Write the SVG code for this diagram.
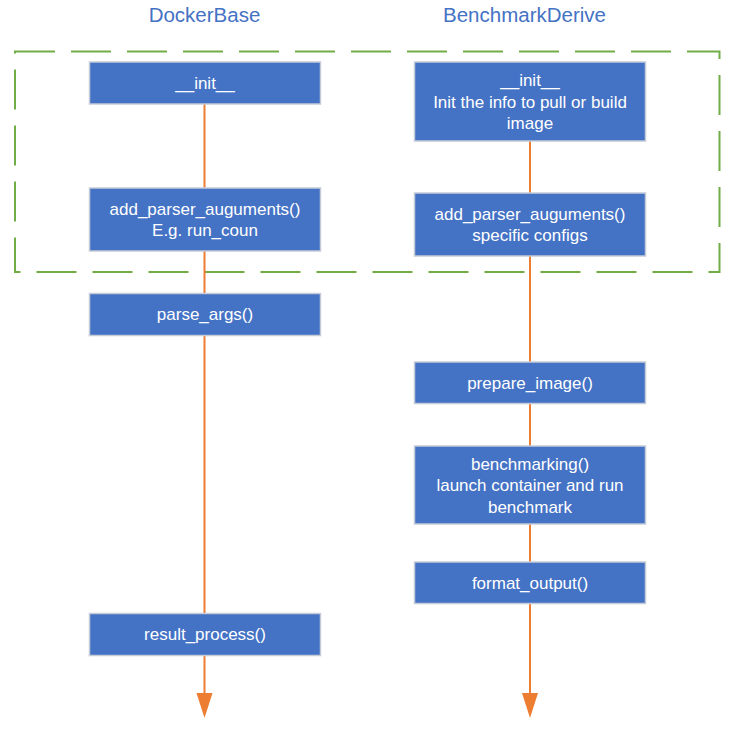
<svg xmlns="http://www.w3.org/2000/svg" width="734" height="729" viewBox="0 0 734 729">
<defs>
<style>
.title{font-family:"Liberation Sans",Arial,sans-serif;font-size:20.5px;fill:#4472C4;text-anchor:middle}
.box rect{fill:#4472C4;stroke:#C5CCD8;stroke-width:1.5}
.box text{font-family:"Liberation Sans",Arial,sans-serif;font-size:17px;fill:#FFFFFF;text-anchor:middle}
.conn line{stroke:#ED7D31;stroke-width:2}
.conn polygon{fill:#ED7D31}
.frame{fill:none;stroke:#70AD47;stroke-width:2;stroke-dasharray:40 16}
</style>
</defs>
<rect width="734" height="729" fill="#FFFFFF"/>
<text class="title" x="204.5" y="22">DockerBase</text>
<text class="title" x="524.5" y="22">BenchmarkDerive</text>
<rect id="frame" class="frame" x="15" y="51.5" width="704.5" height="220.5"/>
<g id="connectors" class="conn">
<line x1="204.5" y1="104" x2="204.5" y2="188"/>
<line x1="204.5" y1="251" x2="204.5" y2="293"/>
<line x1="204.5" y1="335" x2="204.5" y2="613"/>
<line x1="204.5" y1="655" x2="204.5" y2="696"/>
<polygon points="196.5,693 212.5,693 204.5,718"/>
<line x1="530" y1="141" x2="530" y2="193"/>
<line x1="530" y1="256" x2="530" y2="362"/>
<line x1="530" y1="403" x2="530" y2="446"/>
<line x1="530" y1="524" x2="530" y2="562"/>
<line x1="530" y1="603" x2="530" y2="696"/>
<polygon points="522,693 538,693 530,718"/>
</g>
<g id="db_init" class="box">
<rect x="89.5" y="62" width="231" height="42"/>
<text x="205" y="89">__init__</text>
</g>
<g id="db_add_parser" class="box">
<rect x="89.5" y="188" width="231" height="63"/>
<text x="205" y="214.5">add_parser_auguments()</text>
<text x="205" y="236">E.g. run_coun</text>
</g>
<g id="db_parse_args" class="box">
<rect x="89.5" y="293.5" width="231" height="42"/>
<text x="205" y="320">parse_args()</text>
</g>
<g id="db_result_process" class="box">
<rect x="89.5" y="613.5" width="231" height="42"/>
<text x="205" y="640">result_process()</text>
</g>
<g id="bd_init" class="box">
<rect x="414.5" y="62" width="231" height="79"/>
<text x="530" y="86">__init__</text>
<text x="530" y="107.5">Init the info to pull or build</text>
<text x="530" y="129">image</text>
</g>
<g id="bd_add_parser" class="box">
<rect x="414.5" y="193" width="231" height="63"/>
<text x="530" y="219.5">add_parser_auguments()</text>
<text x="530" y="241">specific configs</text>
</g>
<g id="bd_prepare_image" class="box">
<rect x="414.5" y="362" width="231" height="41.5"/>
<text x="530" y="388.5">prepare_image()</text>
</g>
<g id="bd_benchmarking" class="box">
<rect x="414.5" y="446" width="231" height="78"/>
<text x="530" y="469.5">benchmarking()</text>
<text x="530" y="491">launch container and run</text>
<text x="530" y="512.5">benchmark</text>
</g>
<g id="bd_format_output" class="box">
<rect x="414.5" y="562" width="231" height="41.5"/>
<text x="530" y="588.5">format_output()</text>
</g>
</svg>
